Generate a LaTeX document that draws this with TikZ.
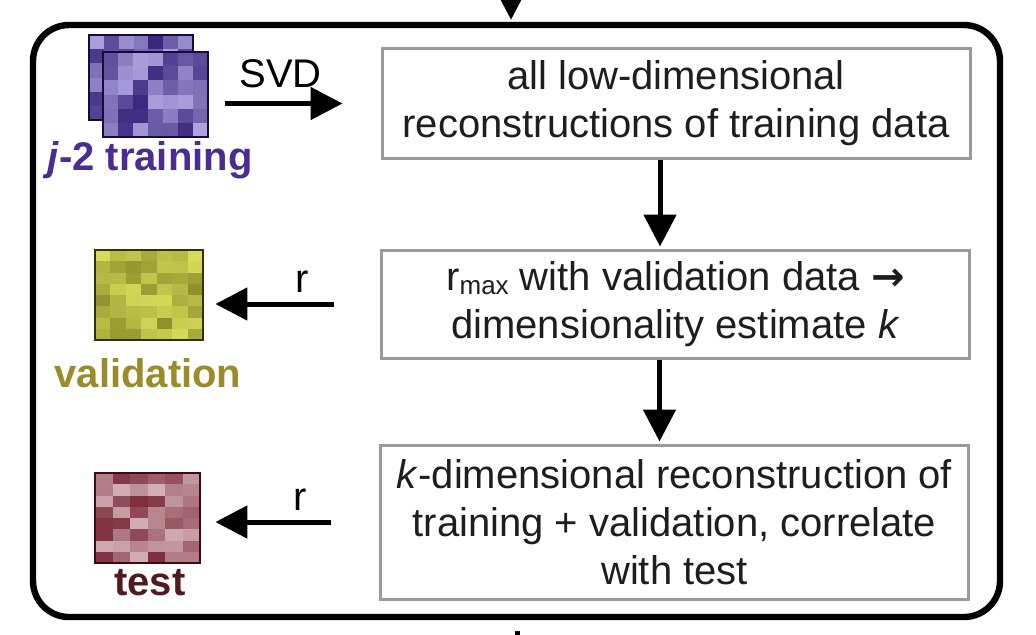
\documentclass[tikz,border=0pt]{standalone}
\usepackage{fontspec}
\setmainfont{Liberation Sans}
\newfontfamily\simbolo{DejaVu Sans}
\usepackage{xcolor}
\usetikzlibrary{arrows.meta, positioning, calc}
\definecolor{tinta}{HTML}{1E1E1E}
\definecolor{gris}{HTML}{9A9A9A}
\definecolor{moraosc}{HTML}{2A1570}
\definecolor{moracla}{HTML}{B6ACE6}
\definecolor{moratxt}{HTML}{4B2D8F}
\definecolor{limaosc}{HTML}{5E5A0A}
\definecolor{limacla}{HTML}{DDE45E}
\definecolor{limatxt}{HTML}{9A8B2B}
\definecolor{granosc}{HTML}{6E1526}
\definecolor{grancla}{HTML}{E8D3D5}
\definecolor{grantxt}{HTML}{4F1B1E}
% #1 x0, #2 y0, #3 cols, #4 rows, #5 cell w, #6 cell h, #7 dark, #8 light, #9 lowest tone
\newcommand{\heatmap}[9]{%
  \foreach \i in {1,...,#3}{
    \foreach \j in {1,...,#4}{
      \pgfmathrandominteger{\tono}{#9}{95}
      \fill[#8!\tono!#7] ({#1+(\i-1)*#5},{#2+(\j-1)*#6}) rectangle ++(#5,#6);
    }
  }
  \draw[line width=1pt, #7!55!black] (#1,#2) rectangle ++({#3*#5},{#4*#6});
}
\tikzset{
  every picture/.style={font=\fontsize{20}{24}\selectfont, text=tinta},
  marco/.style={draw=black, line width=3.2pt, rounded corners=18pt,
                minimum width=483.5pt, minimum height=296pt, inner sep=0pt},
  etapa/.style={draw=gris, line width=1.5pt, fill=white, minimum width=294pt,
                align=center, inner sep=0pt},
  celda/.style={inner sep=0pt},
  rotulo/.style={font=\fontsize{20}{24}\selectfont\bfseries},
  flecha/.style={-{Triangle[length=16pt,width=16pt]}, line width=2.5pt, black},
}
\begin{document}
\begin{tikzpicture}[x=0.5pt, y=-0.5pt]
  \useasboundingbox (0,0) rectangle (1036,634);
  \pgfmathsetseed{42}
  \node[marco] (frame) at (516.5,321) {};
  \coordinate (src) at (511,-60);
  \coordinate (sink) at (517,700);
  \draw[flecha, shorten >=1pt] (src) -- (src |- frame.north);
  \draw[line width=2.5pt, shorten <=5.5pt] (frame.south -| sink) -- (sink);

  \node[etapa, minimum height=55pt] (b1) at (676,103.5)
    {all low-dimensional\\reconstructions of training data};
  \node[etapa, minimum height=54pt] (b2) at (675.5,304)
    {r{\fontsize{13}{13}\selectfont\raisebox{-2pt}{max}} with validation data {\simbolo\bfseries →}\\dimensionality estimate \textit{k}};
  \node[etapa, minimum height=77pt] (b3) at (674.5,522)
    {\textit{k}-dimensional reconstruction of\\training + validation, correlate\\with test};
  \draw[flecha, shorten >=1pt] ([xshift=-8pt]b1.south) -- ([xshift=-8pt]b1.south |- b2.north);
  \draw[flecha, shorten >=1pt] ([xshift=-8pt]b2.south) -- ([xshift=-8pt]b2.south |- b3.north);

  \heatmap{89}{35}{7}{6}{14.86}{14.17}{moraosc}{moracla}{10}
  \heatmap{103}{52}{7}{6}{15}{14.17}{moraosc}{moracla}{10}
  \heatmap{95}{250}{7}{8}{15.43}{11.25}{limaosc}{limacla}{40}
  \heatmap{95}{473}{6}{8}{17.5}{11.25}{granosc}{grancla}{10}
  \node[celda, minimum width=52.5pt, minimum height=42.5pt] (trn) at (155.5,94.5) {};
  \node[celda, minimum width=54pt, minimum height=45pt] (val) at (149,295) {};
  \node[celda, minimum width=52.5pt, minimum height=45pt] (tst) at (147.5,518) {};
  \node[rotulo, text=moratxt] (trnl) at (150,160) {\textit{j}-2 training};
  \node[rotulo, text=limatxt] (vall) at (148,373) {validation};
  \node[rotulo, text=grantxt] (tstl) at (150,583) {test};

  \draw[flecha, shorten <=8.5pt, shorten >=19pt] (trn.east |- b1.west) -- node[above=3pt, xshift=-7pt] {SVD} (b1.west);
  \draw[flecha, shorten <=23pt, shorten >=6pt] (b2.west) -- node[above=1pt, xshift=5pt] {r} (val.east |- b2.west);
  \draw[flecha, shorten <=24pt, shorten >=7.5pt] (b3.west) -- node[above=1pt, xshift=5pt] {r} (tst.east |- b3.west);
\end{tikzpicture}
\end{document}
